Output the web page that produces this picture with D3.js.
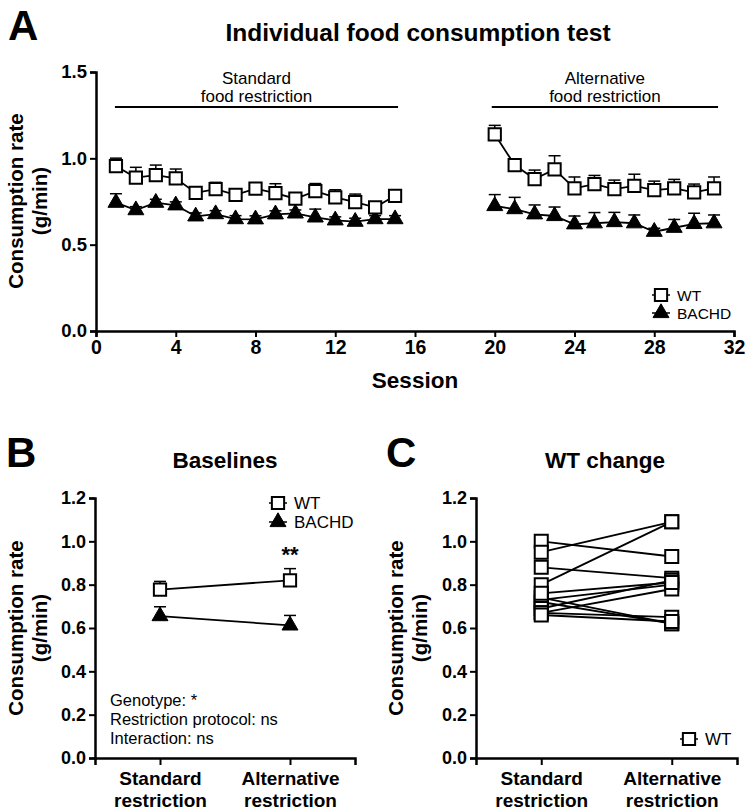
<!DOCTYPE html>
<html><head><meta charset="utf-8">
<script src="https://cdn.jsdelivr.net/npm/d3@7"></script>
<style>
body{margin:0;background:#fff;}
svg{font-family:"Liberation Sans",Arial,Helvetica,sans-serif;}
</style></head>
<body>
<svg id="chart" width="750" height="810"></svg>
<script>
// ---------- DATA ----------
const sessionsStd = [1,2,3,4,5,6,7,8,9,10,11,12,13,14,15];
const sessionsAlt = [20,21,22,23,24,25,26,27,28,29,30,31];
const wtStd   = [0.955,0.888,0.903,0.884,0.800,0.822,0.789,0.824,0.799,0.766,0.810,0.774,0.747,0.716,0.783];
const wtStdErr= [0.046,0.060,0.058,0.054,0.020,0.039,0.020,0.020,0.054,0.020,0.044,0.044,0.046,0.020,0.020];
const bStd    = [0.743,0.700,0.743,0.728,0.664,0.677,0.648,0.647,0.676,0.681,0.658,0.641,0.633,0.648,0.648];
const bStdErr = [0.052,0.020,0.020,0.020,0.020,0.020,0.020,0.020,0.020,0.020,0.048,0.020,0.020,0.020,0.020];
const wtAlt   = [1.139,0.961,0.880,0.936,0.826,0.851,0.822,0.840,0.816,0.826,0.803,0.826];
const wtAltErr= [0.052,0.020,0.052,0.079,0.066,0.050,0.052,0.068,0.052,0.052,0.048,0.066];
const bAlt    = [0.724,0.706,0.676,0.666,0.618,0.624,0.631,0.624,0.575,0.598,0.620,0.624];
const bAltErr = [0.066,0.068,0.054,0.052,0.048,0.062,0.056,0.048,0.020,0.048,0.062,0.048];
const phaseLabels = [["Standard","food restriction"],["Alternative","food restriction"]];
const phaseSpans = [[0.95,15.15],[19.85,31.2]];
const xTicksA = [0,4,8,12,16,20,24,28,32];
const yTicksA = [0,0.5,1.0,1.5];

const categories = ["Standard restriction","Alternative restriction"];
const baseWT = [0.777,0.820];
const baseWTErr = [0.038,0.054];
const baseB = [0.655,0.612];
const baseBErr = [0.043,0.046];
const yTicksBC = [0,0.2,0.4,0.6,0.8,1.0,1.2];
const statsText = ["Genotype: *","Restriction protocol: ns","Interaction: ns"];

const wtChangeStd = [1.00,0.95,0.88,0.80,0.74,0.73,0.72,0.69,0.67,0.67,0.66,0.76];
const wtChangeAlt = [0.93,1.09,0.83,1.09,0.62,0.80,0.62,0.82,0.78,0.65,0.63,0.81];

// ---------- HELPERS ----------
const svg = d3.select("#chart");
const sqSym = d3.symbol().type(d3.symbolSquare).size(150);
const triSym = d3.symbol().type(d3.symbolTriangle).size(110);

function styleAxis(g, sw){
  g.selectAll("path.domain").attr("stroke","#000").attr("stroke-width",sw);
  g.selectAll(".tick line").attr("stroke","#000").attr("stroke-width",2);
  g.selectAll(".tick text").attr("fill","#000").attr("font-weight","bold");
}
function marker(g, type, x, y){
  g.append("path").attr("d", type==="sq"?sqSym():triSym())
   .attr("transform",`translate(${x},${y})`)
   .attr("fill", type==="sq"?"#fff":"#000")
   .attr("stroke","#000").attr("stroke-width", type==="sq"?2:1);
}
function errBar(g, x, y0, y1){
  g.append("line").attr("x1",x).attr("x2",x).attr("y1",y0).attr("y2",y1).attr("stroke","#000").attr("stroke-width",1.5);
  g.append("line").attr("x1",x-6).attr("x2",x+6).attr("y1",y1).attr("y2",y1).attr("stroke","#000").attr("stroke-width",1.5);
}
function yLabel(cx, cy, x2){
  const t = svg.append("g").attr("transform",`translate(${cx},${cy}) rotate(-90)`);
  t.append("text").attr("text-anchor","middle").attr("y",0).attr("font-size",20.5).attr("font-weight","bold").text("Consumption rate");
  t.append("text").attr("text-anchor","middle").attr("y",x2).attr("font-size",20.5).attr("font-weight","bold").text("(g/min)");
}

// ---------- PANEL A ----------
const xA = d3.scaleLinear().domain([0,32]).range([96,734]);
const yA = d3.scaleLinear().domain([0,1.5]).range([331,72]);
const gA = svg.append("g");
svg.append("text").attr("x",8).attr("y",40).attr("font-size",42).attr("font-weight","bold").text("A");
svg.append("text").attr("x",418).attr("y",41).attr("text-anchor","middle").attr("font-size",24.5).attr("font-weight","bold").text("Individual food consumption test");

const axA_x = gA.append("g").attr("transform",`translate(0,${yA(0)})`)
  .call(d3.axisBottom(xA).tickValues(xTicksA).tickFormat(d3.format("d")).tickSize(6).tickPadding(3));
axA_x.selectAll(".tick text").attr("font-size",19.5).attr("dy","0.72em");
styleAxis(axA_x,2.5);
const axA_y = gA.append("g").attr("transform",`translate(${xA(0)},0)`)
  .call(d3.axisLeft(yA).tickValues(yTicksA).tickFormat(d3.format(".1f")).tickSize(6).tickPadding(3));
axA_y.selectAll(".tick text").attr("font-size",18.5);
styleAxis(axA_y,2.5);
svg.append("text").attr("x",415).attr("y",388).attr("text-anchor","middle").attr("font-size",22.5).attr("font-weight","bold").text("Session");
yLabel(23, 201, 24);

phaseSpans.forEach((s,i)=>{
  const x1 = xA(s[0]), x2 = xA(s[1]);
  gA.append("line").attr("x1",x1).attr("x2",x2).attr("y1",107).attr("y2",107).attr("stroke","#000").attr("stroke-width",2);
  gA.append("text").attr("x",(x1+x2)/2).attr("y",84).attr("text-anchor","middle").attr("font-size",17).text(phaseLabels[i][0]);
  gA.append("text").attr("x",(x1+x2)/2).attr("y",102).attr("text-anchor","middle").attr("font-size",17).text(phaseLabels[i][1]);
});

const line = d3.line();
function seriesA(xs, ys, errs, type){
  gA.append("path").attr("d", line(xs.map((d,i)=>[xA(d),yA(ys[i])]))).attr("fill","none").attr("stroke","#000").attr("stroke-width",1.8);
  xs.forEach((d,i)=>errBar(gA, xA(d), yA(ys[i]), yA(ys[i]+errs[i])));
  xs.forEach((d,i)=>marker(gA, type, xA(d), yA(ys[i])));
}
seriesA(sessionsStd, bStd, bStdErr, "tri");
seriesA(sessionsAlt, bAlt, bAltErr, "tri");
seriesA(sessionsStd, wtStd, wtStdErr, "sq");
seriesA(sessionsAlt, wtAlt, wtAltErr, "sq");

function legendItem(g, type, x, y, label, fs){
  g.append("line").attr("x1",x-9).attr("x2",x+9).attr("y1",y).attr("y2",y).attr("stroke","#000").attr("stroke-width",1.5);
  marker(g, type, x, y);
  g.append("text").attr("x",x+16).attr("y",y).attr("dy","0.36em").attr("font-size",fs).text(label);
}
legendItem(gA,"sq",661,295,"WT",15.5);
legendItem(gA,"tri",661,313,"BACHD",15.5);

// ---------- PANEL B ----------
const xB = d3.scalePoint().domain(categories).range([95,355]).padding(0.5);
const yB = d3.scaleLinear().domain([0,1.2]).range([758,498]);
const gB = svg.append("g");
svg.append("text").attr("x",6).attr("y",467).attr("font-size",42).attr("font-weight","bold").text("B");
svg.append("text").attr("x",225).attr("y",468).attr("text-anchor","middle").attr("font-size",22.5).attr("font-weight","bold").text("Baselines");

function catAxes(g, xS, yS){
  const ax = g.append("g").attr("transform",`translate(0,${yS(0)})`)
    .call(d3.axisBottom(xS).tickSize(7).tickFormat(""));
  styleAxis(ax,2.5);
  ax.selectAll(".tick").each(function(d){
    const words = d.split(" ");
    const t = d3.select(this).append("text").attr("text-anchor","middle").attr("font-size",19).attr("font-weight","bold").attr("fill","#000");
    t.append("tspan").attr("x",0).attr("y",27).text(words[0]);
    t.append("tspan").attr("x",0).attr("y",49).text(words[1]);
  });
  const ay = g.append("g").attr("transform",`translate(${xS.range()[0]},0)`)
    .call(d3.axisLeft(yS).tickValues(yTicksBC).tickFormat(d3.format(".1f")).tickSize(6).tickPadding(3));
  ay.selectAll(".tick text").attr("font-size",18);
  styleAxis(ay,2.5);
}
catAxes(gB, xB, yB);
yLabel(23, 628, 24);

function seriesB(vals, errs, type){
  gB.append("path").attr("d", line(categories.map((c,i)=>[xB(c),yB(vals[i])]))).attr("fill","none").attr("stroke","#000").attr("stroke-width",1.8);
  categories.forEach((c,i)=>errBar(gB, xB(c), yB(vals[i]), yB(vals[i]+errs[i])));
  categories.forEach((c,i)=>marker(gB, type, xB(c), yB(vals[i])));
}
seriesB(baseB, baseBErr, "tri");
seriesB(baseWT, baseWTErr, "sq");
gB.append("text").attr("x",xB(categories[1])).attr("y",yB(baseWT[1]+baseWTErr[1])-7).attr("text-anchor","middle").attr("font-size",22).attr("font-weight","bold").text("**");
legendItem(gB,"sq",278,503,"WT",17);
legendItem(gB,"tri",278,522,"BACHD",17);
statsText.forEach((t,i)=>{
  gB.append("text").attr("x",110).attr("y",706+i*19).attr("font-size",16.5).text(t);
});

// ---------- PANEL C ----------
const xC = d3.scalePoint().domain(categories).range([476,737]).padding(0.5);
const yC = d3.scaleLinear().domain([0,1.2]).range([758,498]);
const gC = svg.append("g");
svg.append("text").attr("x",386).attr("y",467).attr("font-size",42).attr("font-weight","bold").text("C");
svg.append("text").attr("x",605).attr("y",468).attr("text-anchor","middle").attr("font-size",22.5).attr("font-weight","bold").text("WT change");
catAxes(gC, xC, yC);
yLabel(403, 628, 24);
wtChangeStd.forEach((v,i)=>{
  gC.append("line").attr("x1",xC(categories[0])).attr("x2",xC(categories[1]))
    .attr("y1",yC(v)).attr("y2",yC(wtChangeAlt[i])).attr("stroke","#000").attr("stroke-width",1.8);
});
const sqC = d3.symbol().type(d3.symbolSquare).size(170);
wtChangeStd.forEach((v,i)=>{
  [[0,v],[1,wtChangeAlt[i]]].forEach(p=>{
    gC.append("path").attr("d",sqC()).attr("transform",`translate(${xC(categories[p[0]])},${yC(p[1])})`)
      .attr("fill","#fff").attr("stroke","#000").attr("stroke-width",2);
  });
});
legendItem(gC,"sq",689,739,"WT",17);
</script>
</body></html>
